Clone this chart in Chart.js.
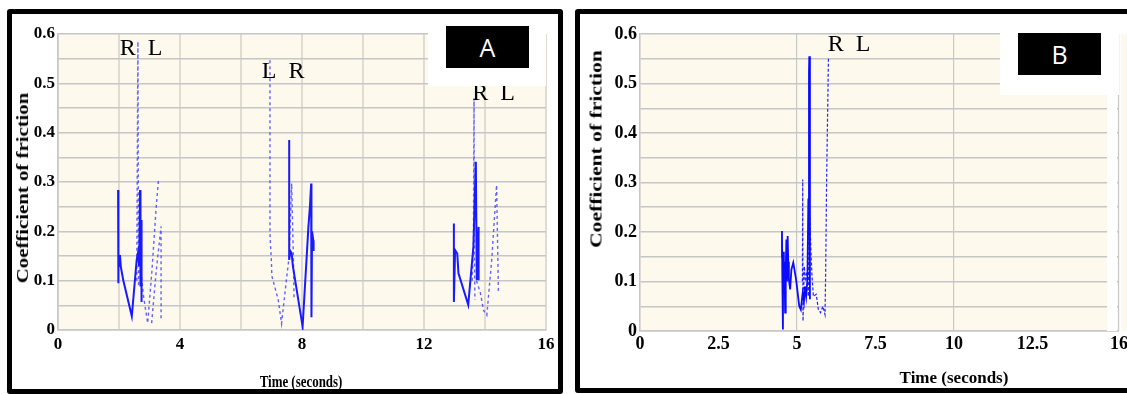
<!DOCTYPE html>
<html>
<head>
<meta charset="utf-8">
<script src="https://cdn.jsdelivr.net/npm/chart.js@4.4.1/dist/chart.umd.min.js"></script>
<style>
  body { margin: 0; width: 1127px; height: 394px; position: relative; overflow: hidden; background: #fff; }
  .frame { position: absolute; box-sizing: border-box; border: 5px solid #000; border-radius: 3px; }
  .plot { position: absolute; top: 0; height: 394px; }
  .cover { position: absolute; background: #fff; }
  .tag { position: absolute; background: #000; color: #fff; font: 25px "Open Sans", "Liberation Sans", sans-serif;
         display: flex; align-items: center; justify-content: center; }
  .title { position: absolute; font-family: "Liberation Serif", "Times New Roman", serif; font-weight: bold;
           line-height: 1; white-space: nowrap; color: #000; transform-origin: center; }
</style>
</head>
<body>
<div class="frame" style="left:7px; top:9px; width:556px; height:385px"></div>
<div class="frame" style="left:575px; top:9px; width:570px; height:384px"></div>

<div class="plot" style="left:0; width:565px"><canvas id="chartA"></canvas></div>
<div class="plot" style="left:565px; width:570px"><canvas id="chartB"></canvas></div>

<div class="cover" style="left:428px; top:28px; width:118px; height:58px"></div>
<div class="tag" style="left:446px; top:26px; width:83px; height:42px">A</div>
<div class="cover" style="left:1000px; top:28px; width:119px; height:67px"></div>
<div class="cover" style="left:1107px; top:95px; width:10px; height:236px"></div>
<div class="cover" style="left:1121px; top:34px; width:6px; height:297px; background:#fdf9ec"></div>
<div class="tag" style="left:1018px; top:33px; width:83px; height:42px">B</div>

<div class="title" style="left:23px; top:188px; font-size:16px; transform:translate(-50%,-50%) rotate(-90deg) scaleX(1.3)">Coefficient of friction</div>
<div class="title" style="left:301px; top:381px; font-size:17px; transform:translate(-50%,-50%) scaleX(0.76)">Time (seconds)</div>
<div class="title" style="left:596px; top:149px; font-size:17px; transform:translate(-50%,-50%) rotate(-90deg) scaleX(1.27)">Coefficient of friction</div>
<div class="title" style="left:954px; top:377px; font-size:17px; transform:translate(-50%,-50%)">Time (seconds)</div>

<script>
// Panel A: three gait cycles, solid = one foot, dashed = the other (null breaks the trace)
const timeA_solid = [1.97, 1.97, 1.99, 2.01, 2.03, 2.06, 2.14, 2.42, 2.58, 2.63, 2.66, 2.69, 2.70, 2.71, 2.73, 2.74,
  5,
  7.58, 7.58, 7.62, 7.66, 7.70, 8.02, 8.21, 8.26, 8.30, 8.31, 8.33, 8.37, 8.38,
  11,
  12.98, 12.98, 13.02, 13.09, 13.13, 13.45, 13.62, 13.67, 13.70, 13.73, 13.76, 13.79, 13.79];
const cofA_solid = [0.284, 0.095, 0.155, 0.130, 0.152, 0.128, 0.101, 0.028, 0.142, 0.159, 0.130, 0.284, 0.088, 0.180, 0.223, 0.057,
  null,
  0.385, 0.142, 0.160, 0.156, 0.130, 0.007, 0.209, 0.250, 0.297, 0.026, 0.200, 0.182, 0.160,
  null,
  0.216, 0.057, 0.162, 0.155, 0.115, 0.051, 0.169, 0.277, 0.341, 0.101, 0.160, 0.209, 0.101];

const timeA_dashed = [2.58, 2.62, 2.64, 2.68, 2.72, 2.80, 2.94, 3.08, 3.22, 3.30, 3.30, 3.07, 3.22, 3.38, 3.38,
  5,
  6.95, 6.95, 6.97, 7.00, 7.01, 7.22, 7.33, 7.50, 7.58, 7.66, 7.72, 7.74,
  11,
  13.58, 13.62, 13.64, 13.65, 13.67, 13.67, 13.72, 13.85, 13.95, 14.06, 14.22, 14.38, 14.42, 14.44];
const cofA_dashed = [0.100, 0.585, 0.088, 0.160, 0.120, 0.070, 0.014, 0.120, 0.250, 0.308, null, 0.014, 0.120, 0.210, 0.020,
  null,
  0.547, 0.196, 0.169, 0.135, 0.110, 0.061, 0.013, 0.108, 0.149, 0.297, 0.142, 0.061,
  null,
  0.100, 0.170, 0.470, 0.160, 0.061, null, 0.100, 0.075, 0.040, 0.030, 0.142, 0.294, 0.150, 0.074];

// Panel B: single cycle
const timeB_solid = [4.51, 4.52, 4.53, 4.55, 4.56, 4.58, 4.60, 4.62, 4.64, 4.66, 4.68, 4.70, 4.72, 4.74, 4.78, 4.82,
  4.88, 4.97, 5.07, 5.12, 5.18, 5.22, 5.25, 5.29, 5.33, 5.36, 5.38, 5.39, 5.41, 5.41];
const cofB_solid = [0.148, 0.202, 0.120, 0.003, 0.160, 0.090, 0.140, 0.037, 0.120, 0.185, 0.100, 0.192, 0.140, 0.104, 0.084, 0.124,
  0.138, 0.104, 0.050, 0.043, 0.077, 0.060, 0.090, 0.070, 0.104, 0.266, 0.522, 0.555, 0.555, 0.064];

const timeB_dashed = [5.17, 5.18, 5.19, 5.23, 5.27, 5.31, 5.36, 5.39, 5.42, 5.47, 5.52, 5.61, 5.68, 5.75, 5.82, 5.89,
  5.91, 5.94, 6.00];
const cofB_dashed = [0.100, 0.306, 0.020, 0.131, 0.100, 0.120, 0.070, 0.252, 0.200, 0.118, 0.070, 0.074, 0.043, 0.037, 0.050, 0.033,
  0.111, 0.300, 0.552];

// axis ticks
const yTicks = [0, 0.05, 0.1, 0.15, 0.2, 0.25, 0.3, 0.35, 0.4, 0.45, 0.5, 0.55, 0.6];
const yTickLabels = ['0', '', '0.1', '', '0.2', '', '0.3', '', '0.4', '', '0.5', '', '0.6'];
const xTicksA = [0, 2, 4, 6, 8, 10, 12, 14, 16];
const xTickLabelsA = ['0', '', '4', '', '8', '', '12', '', '16'];
const xTicksB = [0, 2.5, 5, 7.5, 10, 12.5, 15.25];
const xTickLabelsB = ['0', '2.5', '5', '7.5', '10', '12.5', '16'];

// R / L foot markers above the peaks
const peakTextA = ['R  L', 'L  R', 'R  L'];
const peakTimeA = [2.72, 7.38, 14.28];
const peakLevelA = [0.570, 0.523, 0.478];
const peakTextB = ['R  L'];
const peakTimeB = [6.66];
const peakLevelB = [0.579];

const plotBackground = {
  id: 'plotBackground',
  beforeDraw(chart, args, opts) {
    const { ctx, chartArea: a } = chart;
    ctx.save();
    ctx.fillStyle = opts.color;
    ctx.fillRect(a.left, a.top, a.width, a.height);
    ctx.restore();
  }
};

const peakLabels = {
  id: 'peakLabels',
  afterDatasetsDraw(chart, args, opts) {
    const { ctx, scales: { x, y } } = chart;
    ctx.save();
    ctx.font = '24px "Liberation Serif", "Times New Roman", serif';
    ctx.fillStyle = '#000';
    ctx.textAlign = 'center';
    ctx.textBaseline = 'middle';
    opts.texts.forEach((t, i) => {
      ctx.fillText(t, x.getPixelForValue(opts.times[i]), y.getPixelForValue(opts.levels[i]));
    });
    ctx.restore();
  }
};

function toPoints(times, values) {
  return times.map((t, i) => ({ x: t, y: values[i] }));
}

function makePanel(id, cfg) {
  const tickFont = { family: '"Liberation Serif", "Times New Roman", serif', size: cfg.tickSize, weight: 'bold' };
  return new Chart(document.getElementById(id), {
    type: 'line',
    data: {
      datasets: [
        {
          data: toPoints(cfg.solidT, cfg.solidV),
          borderColor: cfg.solidColor,
          borderWidth: cfg.solidWidth
        },
        {
          data: toPoints(cfg.dashT, cfg.dashV),
          borderColor: cfg.dashColor,
          borderWidth: cfg.dashWidth,
          borderDash: cfg.dash
        }
      ]
    },
    options: {
      responsive: true,
      maintainAspectRatio: false,
      animation: false,
      spanGaps: false,
      layout: { padding: cfg.padding },
      elements: { point: { radius: 0 }, line: { tension: 0 } },
      plugins: {
        legend: { display: false },
        tooltip: { enabled: false },
        plotBackground: { color: '#fdf9ec' },
        peakLabels: { texts: cfg.peakText, times: cfg.peakTime, levels: cfg.peakLevel }
      },
      scales: {
        x: {
          type: 'linear',
          min: 0,
          max: cfg.xTicks[cfg.xTicks.length - 1],
          afterBuildTicks: s => { s.ticks = cfg.xTicks.map(v => ({ value: v })); },
          afterFit: s => { s.height = cfg.xAxisHeight; },
          ticks: {
            autoSkip: false, maxRotation: 0, padding: cfg.xTickPad,
            color: '#000', font: tickFont,
            callback: (v, i) => cfg.xLabels[i]
          },
          grid: {
            drawTicks: false,
            color: cfg.xGridColor,
            lineWidth: cfg.xGridWidth
          },
          border: { color: '#c8c8c8', width: 1.5 }
        },
        y: {
          min: 0,
          max: 0.6,
          afterBuildTicks: s => { s.ticks = yTicks.map(v => ({ value: v })); },
          afterFit: s => { s.width = cfg.yAxisWidth; },
          ticks: {
            autoSkip: false, padding: 3,
            color: '#000', font: tickFont,
            callback: (v, i) => yTickLabels[i]
          },
          grid: { drawTicks: false, color: '#c6c6c6', lineWidth: 1.5 },
          border: { color: '#c8c8c8', width: 1.5 }
        }
      }
    },
    plugins: [plotBackground, peakLabels]
  });
}

makePanel('chartA', {
  solidT: timeA_solid, solidV: cofA_solid,
  dashT: timeA_dashed, dashV: cofA_dashed,
  solidColor: '#1a1aff', solidWidth: 2,
  dashColor: 'rgba(60, 60, 255, 0.8)', dashWidth: 1.4, dash: [3, 3],
  xTicks: xTicksA, xLabels: xTickLabelsA,
  xGridColor: '#e0dcd3', xGridWidth: 2,
  tickSize: 17, xTickPad: 4,
  padding: { left: 24, top: 34, right: 19, bottom: 0 },
  yAxisWidth: 34, xAxisHeight: 64,
  peakText: peakTextA, peakTime: peakTimeA, peakLevel: peakLevelA
});

makePanel('chartB', {
  solidT: timeB_solid, solidV: cofB_solid,
  dashT: timeB_dashed, dashV: cofB_dashed,
  solidColor: '#0a0aff', solidWidth: 1.8,
  dashColor: '#2424ff', dashWidth: 1.2, dash: [3, 2],
  xTicks: xTicksB, xLabels: xTickLabelsB,
  // vertical lines only every 5 s plus the right edge
  xGridColor: ctx => (ctx.tick && (ctx.tick.value % 5 === 0 || ctx.index === xTicksB.length - 1)) ? '#c8c8c8' : 'rgba(0,0,0,0)',
  xGridWidth: 1.2,
  tickSize: 18, xTickPad: 3,
  padding: { left: 35, top: 34, right: 16, bottom: 0 },
  yAxisWidth: 40, xAxisHeight: 63,
  peakText: peakTextB, peakTime: peakTimeB, peakLevel: peakLevelB
});
</script>
</body>
</html>
